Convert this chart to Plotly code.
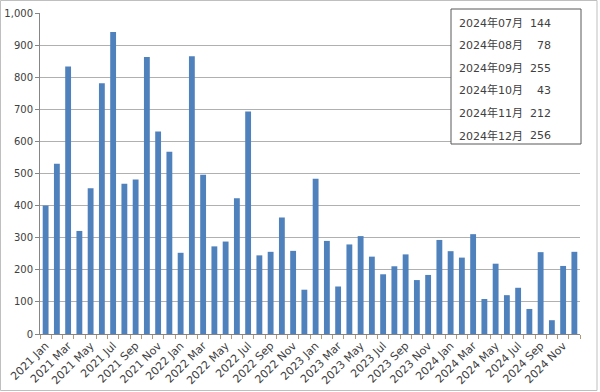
import plotly.graph_objects as go

months = ["Jan", "Feb", "Mar", "Apr", "May", "Jun", "Jul", "Aug", "Sep", "Oct", "Nov", "Dec"]
years = [2021, 2022, 2023, 2024]
categories = [f"{y} {m}" for y in years for m in months]

values = [
    400, 530, 833, 321, 454, 781, 941, 468, 481, 863, 631, 568,
    253, 865, 496, 273, 288, 423, 693, 245, 256, 363, 259, 138,
    484, 290, 148, 279, 305, 241, 186, 211, 248, 168, 184, 293,
    258, 238, 311, 109, 219, 121, 144, 78, 255, 43, 212, 256,
]

box_labels = ["2024年07月", "2024年08月", "2024年09月", "2024年10月", "2024年11月", "2024年12月"]
box_values = values[-6:]

y_ticks = list(range(0, 1001, 100))

x_idx = list(range(len(categories)))
tick_idx = x_idx[::2]
tick_text = categories[::2]

fig = go.Figure()
fig.add_trace(go.Bar(
    x=x_idx, y=values,
    marker=dict(color="#4f81bd", line=dict(width=0)),
    width=0.52,
    hoverinfo="x+y",
))

# plot area in px
L, R, T, B = 40, 580, 13, 334
W, H = R - L, B - T

def px_x(p):
    return (p - L) / W

def px_y(p):
    return (B - p) / H

box_font = dict(family="DejaVu Sans, Noto Sans CJK JP", size=11, color="#404040")
annotations = []
line_ys = [23.5, 45.5, 68, 90.5, 113, 135.5]
for lab, val, ly in zip(box_labels, box_values, line_ys):
    annotations.append(dict(
        x=px_x(457), y=px_y(ly), xref="paper", yref="paper",
        text=lab, showarrow=False, xanchor="left", yanchor="middle",
        font=box_font,
    ))
    annotations.append(dict(
        x=px_x(553), y=px_y(ly), xref="paper", yref="paper",
        text=str(val), showarrow=False, xanchor="right", yanchor="middle",
        font=box_font,
    ))

shapes = [
    dict(type="rect", xref="paper", yref="paper",
         x0=px_x(451), x1=px_x(581), y0=px_y(144), y1=px_y(9),
         line=dict(color="#595959", width=1), fillcolor="white", layer="above"),
    dict(type="rect", xref="paper", yref="paper",
         x0=px_x(0.5), x1=px_x(597), y0=px_y(390.5), y1=px_y(0.5),
         line=dict(color="#bfbfbf", width=1), fillcolor="rgba(0,0,0,0)"),
]

fig.update_layout(
    width=600, height=392,
    margin=dict(l=L, r=600 - R, t=T, b=392 - B, autoexpand=False),
    paper_bgcolor="white", plot_bgcolor="white",
    showlegend=False,
    font=dict(family="DejaVu Sans", size=10, color="#404040"),
    annotations=annotations,
    shapes=shapes,
    xaxis=dict(
        range=[-0.5, len(categories) - 0.5], automargin=False,
        tickmode="array", tickvals=tick_idx, ticktext=tick_text,
        tickangle=-45, ticks="", showgrid=False, zeroline=False,
        showline=True, linecolor="#868686", linewidth=1,
        tickfont=dict(family="DejaVu Sans", size=11, color="#404040"),
        minor=dict(tickmode="linear", tick0=-0.5, dtick=1, ticks="outside",
                   ticklen=4, tickcolor="#b89870", showgrid=False),
    ),
    yaxis=dict(
        range=[0, 1000], tickmode="array", tickvals=y_ticks, automargin=False,
        tickformat=",", ticks="outside", ticklen=4, tickcolor="#868686",
        showgrid=True, gridcolor="#b0b0b0", gridwidth=1,
        showline=True, linecolor="#868686", linewidth=1, zeroline=False,
        tickfont=dict(family="DejaVu Sans", size=10, color="#404040"),
    ),
)

fig.write_html("out.html")
